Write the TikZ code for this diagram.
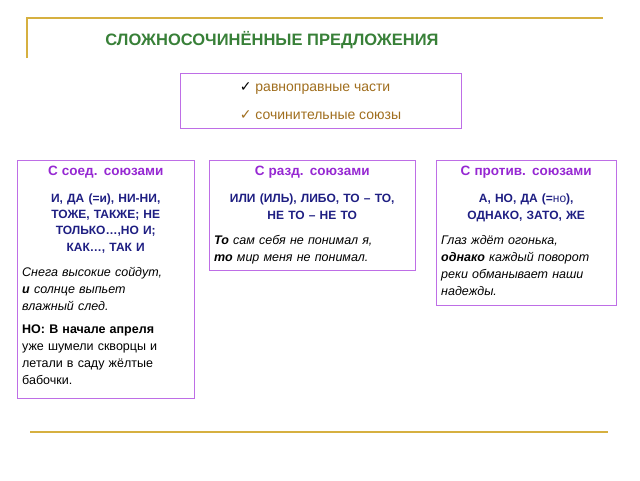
\documentclass[tikz,border=0pt]{standalone}
\usepackage{fontspec}
\setmainfont{Liberation Sans}
\newfontfamily\symfont{DejaVu Sans}
\usetikzlibrary{positioning}
\definecolor{goldline}{RGB}{214,176,64}
\definecolor{titlegreen}{RGB}{56,128,56}
\definecolor{boxviolet}{RGB}{190,110,230}
\definecolor{headviolet}{RGB}{150,40,210}
\definecolor{conjblue}{RGB}{30,30,130}
\definecolor{brownish}{RGB}{160,110,30}
\tikzset{kindbox/.style={anchor=north west, inner xsep=5pt, inner ysep=6pt,
  font=\fontsize{12.5}{17}\selectfont, align=left},
  boxline/.style={draw=boxviolet, line width=0.8pt}}
\newcommand{\headline}[1]{{\centering\textcolor{headviolet}{\fontsize{13.5}{16}\selectfont\bfseries #1}\par}\vspace{11pt}}
\newcommand{\conjline}[1]{{\centering\textcolor{conjblue}{\fontsize{12}{16}\selectfont\bfseries #1}\par}\vspace{8pt}}
\begin{document}
\begin{tikzpicture}[x=1pt, y=-1pt]
\useasboundingbox (0,0) rectangle (640,480);

% frame lines
\coordinate (tl) at (27,18);
\coordinate (tr) at (603,18);
\coordinate (bl) at (30,432);
\coordinate (br) at (608,432);
\draw[goldline, line width=1.2pt] (27,58) -- (tl) -- (tr);
\draw[goldline, line width=1.2pt] (bl) -- (br);

\node[text=titlegreen, font=\fontsize{16.5}{18}\selectfont\bfseries] (title) at (272,40) {СЛОЖНОСОЧИНЁННЫЕ ПРЕДЛОЖЕНИЯ};

\draw[boxline] (180,73) rectangle (461,128);
\node[align=left, font=\fontsize{14}{28}\selectfont, text=brownish] (features) at (320.5,101)
  {{\symfont\textcolor{black}{✓}} равноправные части\\ {\symfont ✓} сочинительные союзы};

\node[kindbox, text width=167pt] (soed) at (17,160) {%
\headline{С соед. союзами}
\conjline{И, ДА (=и), НИ-НИ,\\ ТОЖЕ, ТАКЖЕ; НЕ\\ ТОЛЬКО…,НО И;\\ КАК…, ТАК И}
\textit{Снега высокие сойдут,\\ \textbf{и} солнце выпьет\\ влажный след.}\par\vspace{6pt}
\textbf{НО: В начале апреля}\\ уже шумели скворцы и\\ летали в саду жёлтые\\ бабочки.};
\draw[boxline] (soed.north west) rectangle ++(177,238);

\node[kindbox, text width=196pt] (razd) at (209,160) {%
\headline{С разд. союзами}
\conjline{ИЛИ (ИЛЬ), ЛИБО, ТО – ТО,\\ НЕ ТО – НЕ ТО}
\textit{\textbf{То} сам себя не понимал я,\\ \textbf{то} мир меня не понимал.}};
\draw[boxline] (razd.north west) rectangle ++(206,110);

\node[kindbox, text width=170pt] (protiv) at (436,160) {%
\headline{С против. союзами}
\conjline{А, НО, ДА (=\textmd{но}),\\ ОДНАКО, ЗАТО, ЖЕ}
\textit{Глаз ждёт огонька,\\ \textbf{однако} каждый поворот\\ реки обманывает наши\\ надежды.}};
\draw[boxline] (protiv.north west) rectangle ++(180,145);
\end{tikzpicture}
\end{document}
